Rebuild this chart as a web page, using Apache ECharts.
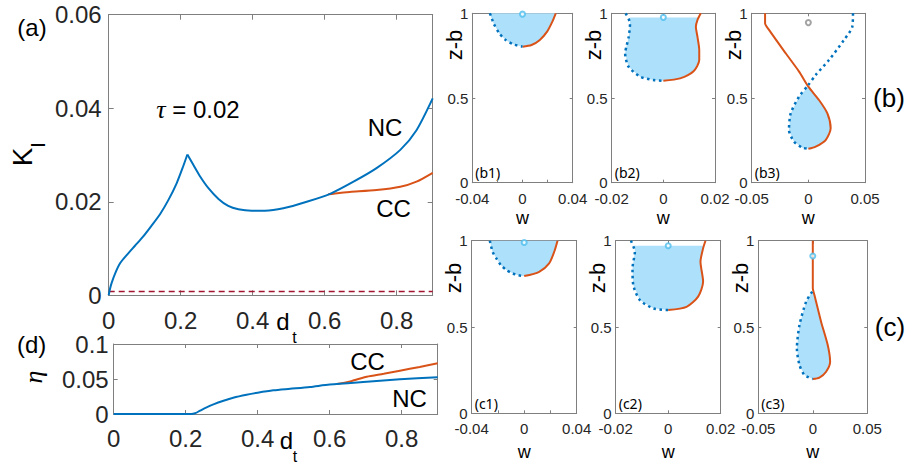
<!DOCTYPE html>
<html>
<head>
<meta charset="UTF-8">
<title>K_I and eta vs d_t</title>
<script src="https://cdn.jsdelivr.net/npm/echarts@6/dist/echarts.min.js"></script>
<style>
  html, body { margin: 0; padding: 0; background: #fff; }
  #chart { width: 907px; height: 464px; }
</style>
</head>
<body>
<div id="chart"></div>
<script>
// (a) K_I against d_t, NC split at the peak
var aNcX = [0, 0.003, 0.008, 0.018, 0.032, 0.05, 0.073, 0.096, 0.119, 0.143, 0.166, 0.189, 0.207, 0.2185];
var aNcY = [0, 0.0012, 0.0026, 0.0047, 0.0069, 0.0086, 0.0106, 0.0126, 0.0149, 0.0174, 0.0204, 0.024, 0.0276, 0.0301];
var aNcX2 = [0.2185, 0.235, 0.254, 0.277, 0.305, 0.332, 0.36, 0.397, 0.434, 0.485, 0.55, 0.615, 0.68, 0.744, 0.81, 0.855, 0.9];
var aNcY2 = [0.0301, 0.0279, 0.0254, 0.0229, 0.0206, 0.0191, 0.0184, 0.0181, 0.0181, 0.0186, 0.0200, 0.0217, 0.0243, 0.0272, 0.0311, 0.0353, 0.0421];
var aCcX = [0.61, 0.64, 0.67, 0.744, 0.81, 0.855, 0.9];
var aCcY = [0.0216, 0.0219, 0.0221, 0.0225, 0.0232, 0.0243, 0.0262];
var aRefY = 0.0008;

// (d) eta against d_t
var dNcX = [0, 0.215, 0.226, 0.24, 0.258, 0.277, 0.305, 0.332, 0.369, 0.4, 0.4435, 0.49, 0.545, 0.60, 0.703, 0.795, 0.9];
var dNcY = [0, 0, 0.001, 0.0048, 0.0095, 0.0138, 0.019, 0.0233, 0.0276, 0.0305, 0.0338, 0.036, 0.0386, 0.042, 0.046, 0.0495, 0.0525];
var dCcX = [0.62, 0.66, 0.703, 0.75, 0.795, 0.85, 0.9];
var dCcY = [0.0428, 0.047, 0.0533, 0.0575, 0.0619, 0.0672, 0.0725];

var dtTicks = [0, 0.2, 0.4, 0.6, 0.8];
var kTicks = [0, 0.02, 0.04, 0.06];
var etaTicks = [0, 0.05, 0.1];
var zTicks = [0, 0.5, 1];

// profiles w(z-b): blue dotted from top down, orange solid from bottom up
var b1BlueW = [-0.026, -0.0245, -0.0228, -0.0185, -0.0135, -0.0074, 0];
var b1BlueZ = [1, 0.97, 0.937, 0.882, 0.843, 0.817, 0.803];
var b1OrangeW = [0, 0.0072, 0.0138, 0.0196, 0.0238, 0.0265];
var b1OrangeZ = [0.803, 0.813, 0.843, 0.892, 0.951, 1];

var b2BlueW = [-0.0146, -0.0129, -0.0134, -0.0142, -0.0148, -0.0135, -0.009, -0.0039, 0];
var b2BlueZ = [1, 0.941, 0.862, 0.81, 0.764, 0.685, 0.626, 0.606, 0.602];
var b2OrangeW = [0, 0.0065, 0.0116, 0.0139, 0.0139, 0.0132, 0.0126, 0.0132, 0.0145];
var b2OrangeZ = [0.602, 0.616, 0.656, 0.724, 0.783, 0.862, 0.921, 0.96, 1];

var b3BlueW = [0.0394, 0.0388, 0.0315, 0.0182, 0.0065, 0, -0.0082, -0.0156, -0.0171, -0.0126, -0.0053, 0];
var b3BlueZ = [1, 0.921, 0.843, 0.724, 0.636, 0.577, 0.508, 0.409, 0.311, 0.242, 0.207, 0.2];
var b3OrangeW = [0, 0.0065, 0.0153, 0.0197, 0.0168, 0.0094, 0, -0.0082, -0.02, -0.0347, -0.0382, -0.0382];
var b3OrangeZ = [0.2, 0.213, 0.252, 0.321, 0.409, 0.488, 0.567, 0.656, 0.764, 0.902, 0.941, 1];

var c1BlueW = [-0.0262, -0.0241, -0.021, -0.0178, -0.0135, -0.0089, -0.0045, 0];
var c1BlueZ = [1, 0.936, 0.895, 0.859, 0.83, 0.811, 0.8, 0.795];
var c1OrangeW = [0, 0.0114, 0.019, 0.0229, 0.0254];
var c1OrangeZ = [0.795, 0.82, 0.869, 0.936, 1];

var c2BlueW = [-0.0142, -0.0127, -0.0136, -0.0133, -0.0108, -0.0057, 0];
var c2BlueZ = [1, 0.936, 0.84, 0.743, 0.656, 0.608, 0.598];
var c2OrangeW = [0, 0.007, 0.0114, 0.0133, 0.0123, 0.0133, 0.0142];
var c2OrangeZ = [0.598, 0.617, 0.676, 0.763, 0.878, 0.956, 1];

var c3BlueW = [-0.0006, -0.0061, -0.0122, -0.0146, -0.0122, -0.0076, 0];
var c3BlueZ = [0.705, 0.647, 0.512, 0.376, 0.279, 0.222, 0.199];
var c3OrangeW = [0, 0.0061, 0.0122, 0.0159, 0.0137, 0.0076, 0.0015, 0, 0];
var c3OrangeZ = [0.199, 0.207, 0.241, 0.299, 0.396, 0.531, 0.685, 0.724, 1];

// small circle on each profile [z-b]
var circleZ = { b1: 0.995, b2: 0.976, b3: 0.945, c1: 0.99, c2: 0.971, c3: 0.911 };

var FONT = '"Liberation Sans", Arial, sans-serif';
var BOX = '#7f7f7f';
var TXT = '#262626';
var BLUE = '#0072BD';
var ORANGE = '#D95319';
var FILL = '#ADE0FA';

var grids = [], xAxes = [], yAxes = [], series = [], texts = [];

function axis(g, o, pos, withLabel) {
  return {
    type: 'value', gridIndex: g, position: pos,
    min: o.min, max: o.max, interval: o.step,
    axisLine: { show: true, onZero: false, lineStyle: { color: BOX, width: 1 } },
    axisTick: { show: true, inside: true, length: o.tick, lineStyle: { color: BOX } },
    splitLine: { show: false },
    axisLabel: {
      show: withLabel, color: TXT, fontFamily: FONT, fontSize: o.font, margin: o.margin,
      formatter: function (v) {
        for (var i = 0; i < o.labels.length; i++) {
          if (Math.abs(o.labels[i] - v) < 1e-9) return String(o.labels[i]);
        }
        return '';
      }
    }
  };
}

function panel(rect, xo, yo) {
  var g = grids.length;
  grids.push({ left: rect[0], top: rect[1], width: rect[2], height: rect[3], containLabel: false, outerBoundsMode: 'none' });
  xAxes.push(axis(g, xo, 'bottom', true), axis(g, xo, 'top', false));
  yAxes.push(axis(g, yo, 'left', true), axis(g, yo, 'right', false));
  return g;
}

function line(g, xs, ys, color, width, type) {
  series.push({
    type: 'line', xAxisIndex: 2 * g, yAxisIndex: 2 * g,
    data: xs.map(function (x, i) { return [x, ys[i]]; }),
    symbol: 'none', smooth: 0.25, silent: true, z: 3,
    lineStyle: { color: color, width: width, type: type || 'solid', cap: 'butt' }
  });
}

function fill(g, bw, bz, ow, oz, top, flat) {
  var pts = [], up = [];
  bw.forEach(function (w, i) { if (bz[i] <= top) pts.push([w, bz[i]]); });
  ow.forEach(function (w, i) { if (oz[i] <= top) up.push([w, oz[i]]); });
  if (flat) {
    pts.unshift([pts[0][0], top]);
    up.push([up[up.length - 1][0], top]);
  }
  pts = pts.concat(up);
  series.push({
    type: 'custom', xAxisIndex: 2 * g, yAxisIndex: 2 * g, data: [[0, 0]], silent: true, z: 1,
    renderItem: function (params, api) {
      return { type: 'polygon', shape: { points: pts.map(function (p) { return api.coord(p); }) }, style: { fill: FILL } };
    }
  });
}

function circle(g, z, color) {
  series.push({
    type: 'scatter', xAxisIndex: 2 * g, yAxisIndex: 2 * g, data: [[0, z]], silent: true, z: 4,
    symbol: 'emptyCircle', symbolSize: 5,
    itemStyle: { color: color, borderColor: color, borderWidth: 1 }
  });
}

function txt(x, y, s, size, extra) {
  var st = { text: s, fontFamily: FONT, fontSize: size, fill: '#000', align: 'center', verticalAlign: 'middle' };
  for (var k in (extra || {})) st[k] = extra[k];
  texts.push({ type: 'text', x: x, y: y, rotation: st.rot || 0, style: st, silent: true });
}

// (a)
var ga = panel([108.7, 14.7, 324, 280.6], { min: 0, max: 0.9, step: 0.2, labels: dtTicks, tick: 5, font: 24, margin: 13 },
  { min: 0, max: 0.06, step: 0.02, labels: kTicks, tick: 5, font: 24, margin: 7 });
line(ga, aCcX, aCcY, ORANGE, 2);
line(ga, aNcX, aNcY, BLUE, 2);
line(ga, aNcX2, aNcY2, BLUE, 2);
series.push({
  type: 'line', xAxisIndex: 2 * ga, yAxisIndex: 2 * ga, data: [[0, aRefY], [0.9, aRefY]],
  symbol: 'none', silent: true, z: 2,
  lineStyle: { color: '#A2142F', width: 1.5, type: [6, 4] }
});

// (d)
var gd = panel([113.7, 344, 324, 70], { min: 0, max: 0.9, step: 0.2, labels: dtTicks, tick: 4, font: 24, margin: 12 },
  { min: 0, max: 0.1, step: 0.05, labels: etaTicks, tick: 4, font: 24, margin: 5 });
line(gd, dCcX, dCcY, ORANGE, 2);
line(gd, dNcX, dNcY, BLUE, 2);

// profile panels
var zAxis = { min: 0, max: 1, step: 0.5, labels: zTicks, tick: 3, font: 15, margin: 4 };
var profiles = [
  { name: 'b1', rect: [472.3, 13.3, 100.4, 169.4], x: { min: -0.04, max: 0.04, step: 0.02, labels: [-0.04, 0, 0.04] }, bw: b1BlueW, bz: b1BlueZ, ow: b1OrangeW, oz: b1OrangeZ, top: 1, flat: false, cc: '#4DBEEE' },
  { name: 'b2', rect: [611.7, 13.3, 103.3, 169.4], x: { min: -0.02, max: 0.02, step: 0.02, labels: [-0.02, 0, 0.02] }, bw: b2BlueW, bz: b2BlueZ, ow: b2OrangeW, oz: b2OrangeZ, top: 0.975, flat: true, cc: '#4DBEEE' },
  { name: 'b3', rect: [751.7, 13.3, 113.3, 169.4], x: { min: -0.05, max: 0.05, step: 0.05, labels: [-0.05, 0, 0.05] }, bw: b3BlueW, bz: b3BlueZ, ow: b3OrangeW, oz: b3OrangeZ, top: 0.572, flat: false, cc: '#8c8c8c' },
  { name: 'c1', rect: [471.7, 240.7, 105, 172.6], x: { min: -0.04, max: 0.04, step: 0.02, labels: [-0.04, 0, 0.04] }, bw: c1BlueW, bz: c1BlueZ, ow: c1OrangeW, oz: c1OrangeZ, top: 1, flat: false, cc: '#4DBEEE' },
  { name: 'c2', rect: [615.7, 240.7, 105, 172.6], x: { min: -0.02, max: 0.02, step: 0.02, labels: [-0.02, 0, 0.02] }, bw: c2BlueW, bz: c2BlueZ, ow: c2OrangeW, oz: c2OrangeZ, top: 0.971, flat: true, cc: '#4DBEEE' },
  { name: 'c3', rect: [758.3, 240.7, 109, 172.6], x: { min: -0.05, max: 0.05, step: 0.05, labels: [-0.05, 0, 0.05] }, bw: c3BlueW, bz: c3BlueZ, ow: c3OrangeW, oz: c3OrangeZ, top: 0.71, flat: false, cc: '#4DBEEE' }
];
profiles.forEach(function (p) {
  p.x.tick = 3; p.x.font = 15; p.x.margin = 8;
  var g = panel(p.rect, p.x, zAxis);
  fill(g, p.bw, p.bz, p.ow, p.oz, p.top, p.flat);
  line(g, p.ow, p.oz, ORANGE, 2);
  line(g, p.bw, p.bz, BLUE, 2.5, [2.5, 3.5]);
  circle(g, circleZ[p.name], p.cc);
  var r = p.rect, row = r[1] < 100;
  txt(r[0] + 3, r[1] + r[3] - 10, '(' + p.name + ')', 14, { fontFamily: '"Noto Sans", sans-serif', align: 'left' });
  txt(r[0] - 18, row ? 45 : 278, 'z-b', 22, { rot: Math.PI / 2 });
  txt(r[0] + r[2] / 2, row ? 218 : 452, 'w', 18);
});

// annotations
txt(32, 27, '(a)', 24);
txt(22, 157, 'K', 28, { rot: Math.PI / 2 });
txt(38, 145, 'I', 20, { rot: Math.PI / 2 });
txt(198, 109, '{t|τ} = 0.02', 24, { rich: { t: { fontStyle: 'italic', fontFamily: '"Liberation Serif", serif', fontSize: 26 } } });
txt(385, 127, 'NC', 24);
txt(393.5, 208, 'CC', 24);
txt(283, 321, 'd', 24);
txt(294.5, 337, 't', 16);
txt(889, 97.5, '(b)', 26);
txt(890, 327, '(c)', 26);
txt(31.7, 344, '(d)', 24);
txt(33, 377, 'η', 26, { fontStyle: 'italic', fontFamily: '"Liberation Serif", serif', rot: Math.PI / 2 });
txt(367.5, 361.7, 'CC', 24);
txt(409.5, 398, 'NC', 24);
txt(286.5, 440, 'd', 24);
txt(295, 456, 't', 16);

var chart = echarts.init(document.getElementById('chart'), null, { renderer: 'svg' });
chart.setOption({
  animation: false,
  backgroundColor: '#fff',
  grid: grids,
  xAxis: xAxes,
  yAxis: yAxes,
  series: series,
  graphic: texts
});
</script>
</body>
</html>
